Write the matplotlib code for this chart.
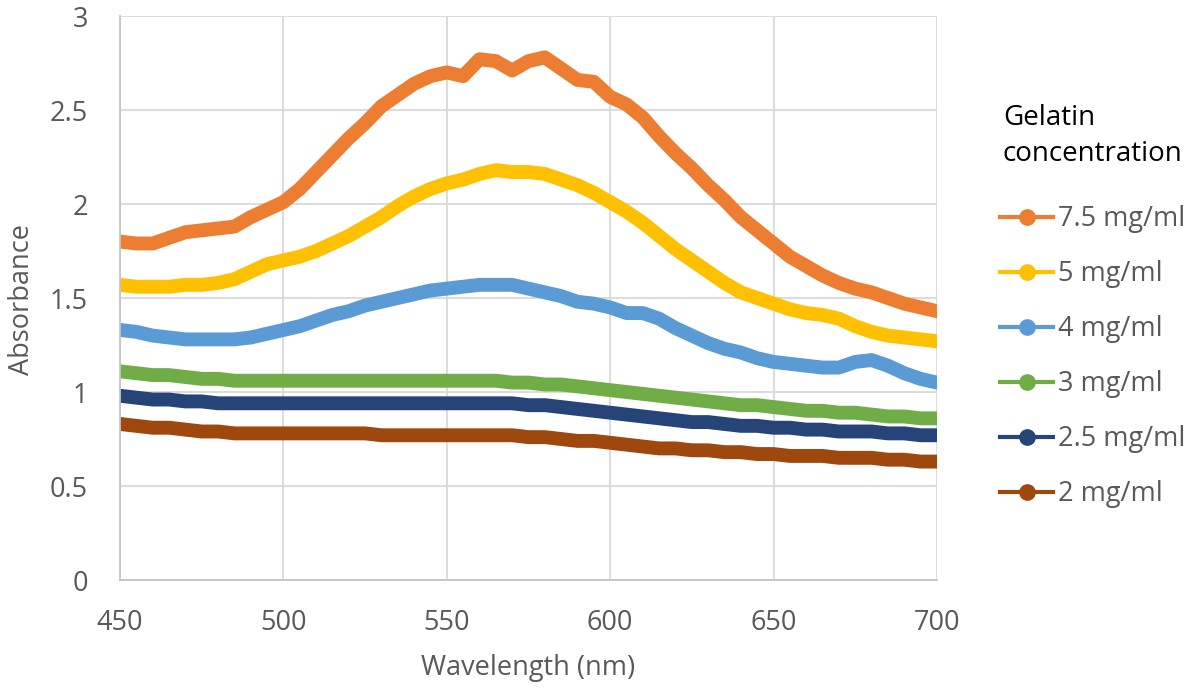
import matplotlib
matplotlib.use("Agg")
import matplotlib.pyplot as plt
from matplotlib.lines import Line2D

plt.rcParams['font.family'] = ['Open Sans', 'DejaVu Sans']

# wavelength grid, nm
wavelength = list(range(450, 701, 5))

# absorbance, every 5 nm
abs_7_5 = [1.80, 1.79, 1.79, 1.82, 1.85, 1.86, 1.87, 1.88, 1.93, 1.97,
           2.01, 2.08, 2.17, 2.26, 2.35, 2.43, 2.52, 2.58, 2.64, 2.68,
           2.70, 2.68, 2.77, 2.76, 2.71, 2.76, 2.78, 2.72, 2.66, 2.65,
           2.57, 2.53, 2.46, 2.36, 2.27, 2.19, 2.10, 2.02, 1.93, 1.86,
           1.79, 1.72, 1.67, 1.62, 1.58, 1.55, 1.53, 1.50, 1.47, 1.45, 1.43]
abs_5 = [1.57, 1.56, 1.56, 1.56, 1.57, 1.57, 1.58, 1.60, 1.64, 1.68,
         1.70, 1.72, 1.75, 1.79, 1.83, 1.88, 1.93, 1.99, 2.04, 2.08,
         2.11, 2.13, 2.16, 2.18, 2.17, 2.17, 2.16, 2.13, 2.10, 2.06,
         2.01, 1.96, 1.90, 1.83, 1.76, 1.70, 1.64, 1.58, 1.53, 1.50,
         1.47, 1.44, 1.42, 1.41, 1.39, 1.35, 1.32, 1.30, 1.29, 1.28, 1.27]
abs_4 = [1.33, 1.32, 1.30, 1.29, 1.28, 1.28, 1.28, 1.28, 1.29, 1.31,
         1.33, 1.35, 1.38, 1.41, 1.43, 1.46, 1.48, 1.50, 1.52, 1.54,
         1.55, 1.56, 1.57, 1.57, 1.57, 1.55, 1.53, 1.51, 1.48, 1.47,
         1.45, 1.42, 1.42, 1.39, 1.34, 1.30, 1.26, 1.23, 1.21, 1.18,
         1.16, 1.15, 1.14, 1.13, 1.13, 1.16, 1.17, 1.14, 1.10, 1.07, 1.05]
abs_3 = [1.11, 1.10, 1.09, 1.09, 1.08, 1.07, 1.07, 1.06, 1.06, 1.06,
         1.06, 1.06, 1.06, 1.06, 1.06, 1.06, 1.06, 1.06, 1.06, 1.06,
         1.06, 1.06, 1.06, 1.06, 1.05, 1.05, 1.04, 1.04, 1.03, 1.02,
         1.01, 1.00, 0.99, 0.98, 0.97, 0.96, 0.95, 0.94, 0.93, 0.93,
         0.92, 0.91, 0.90, 0.90, 0.89, 0.89, 0.88, 0.87, 0.87, 0.86, 0.86]
abs_2_5 = [0.98, 0.97, 0.96, 0.96, 0.95, 0.95, 0.94, 0.94, 0.94, 0.94,
           0.94, 0.94, 0.94, 0.94, 0.94, 0.94, 0.94, 0.94, 0.94, 0.94,
           0.94, 0.94, 0.94, 0.94, 0.94, 0.93, 0.93, 0.92, 0.91, 0.90,
           0.89, 0.88, 0.87, 0.86, 0.85, 0.84, 0.84, 0.83, 0.82, 0.82,
           0.81, 0.81, 0.80, 0.80, 0.79, 0.79, 0.79, 0.78, 0.78, 0.77, 0.77]
abs_2 = [0.83, 0.82, 0.81, 0.81, 0.80, 0.79, 0.79, 0.78, 0.78, 0.78,
         0.78, 0.78, 0.78, 0.78, 0.78, 0.78, 0.77, 0.77, 0.77, 0.77,
         0.77, 0.77, 0.77, 0.77, 0.77, 0.76, 0.76, 0.75, 0.74, 0.74,
         0.73, 0.72, 0.71, 0.70, 0.70, 0.69, 0.69, 0.68, 0.68, 0.67,
         0.67, 0.66, 0.66, 0.66, 0.65, 0.65, 0.65, 0.64, 0.64, 0.63, 0.63]

labels = ['7.5 mg/ml', '5 mg/ml', '4 mg/ml', '3 mg/ml', '2.5 mg/ml', '2 mg/ml']
series = [abs_7_5, abs_5, abs_4, abs_3, abs_2_5, abs_2]
colors = ['#ED7D31', '#FFC000', '#5B9BD5', '#70AD47', '#264478', '#9E480E']

FS = 19.5
GREY = '#595959'

fig = plt.figure(figsize=(12.03, 6.9), dpi=100)
ax = fig.add_axes([0.0998, 0.1594, 0.679, 0.8174])

# lowest series first so the upper ones sit on top
for y, c in zip(series[::-1], colors[::-1]):
    ax.plot(wavelength, y, color=c, lw=10, solid_capstyle='round',
            solid_joinstyle='round')

ax.set_xlim(450, 700)
ax.set_ylim(0, 3)
ax.set_xticks(range(450, 701, 50))
ax.set_yticks([0, 0.5, 1, 1.5, 2, 2.5, 3])
ax.set_yticklabels(['0', '0.5', '1', '1.5', '2', '2.5', '3'])
ax.grid(True, color='#d9d9d9', lw=1.3)
ax.set_axisbelow(True)
for s in ['top', 'right']:
    ax.spines[s].set_visible(False)
for s in ['bottom', 'left']:
    ax.spines[s].set_color('#c4c4c4')
    ax.spines[s].set_linewidth(1.3)
ax.tick_params(length=0, labelsize=FS, colors=GREY)
ax.tick_params(axis='x', pad=21)
ax.tick_params(axis='y', pad=23)

fig.text(528 / 1203, 1 - 668 / 690, 'Wavelength (nm)', fontsize=FS, color=GREY,
         ha='center', va='center')
fig.text(22 / 1203, 1 - 300 / 690, 'Absorbance', fontsize=FS, color=GREY,
         ha='center', va='center', rotation=90)

# legend, title drawn as separate text
fig.text(1003 / 1203, 1 - 104 / 690, 'Gelatin\nconcentration', fontsize=20,
         color='black', ha='left', va='top', linespacing=1.38)
handles = [Line2D([], [], color=c, lw=3, marker='o', ms=11) for c in colors]
fig.legend(handles, labels, loc='upper left', bbox_to_anchor=(1000 / 1203, 1 - 205 / 690),
           frameon=False, fontsize=FS, labelcolor=GREY, borderpad=0, borderaxespad=0,
           handlelength=1.96, handletextpad=0.2, labelspacing=1.0)

plt.savefig('out.png', dpi=100)
plt.close()
